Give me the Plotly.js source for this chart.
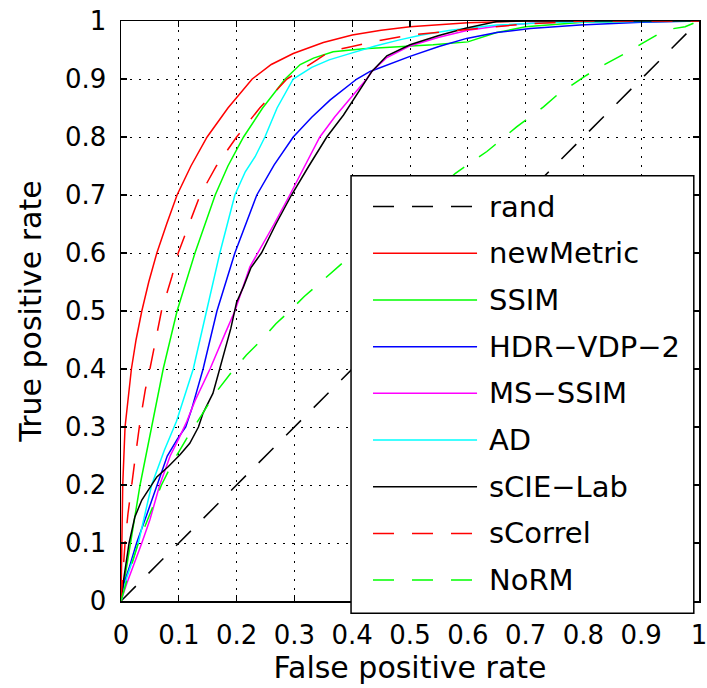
<!DOCTYPE html>
<html>
<head>
<meta charset="utf-8">
<script src="https://cdn.plot.ly/plotly-3.0.1.min.js"></script>
<style>html,body{margin:0;padding:0;background:#fff;}#chart{width:707px;height:688px;}</style>
</head>
<body>
<div id="chart"></div>
<script>
// ---- data ----
const seriesNames = ["rand", "newMetric", "SSIM", "HDR\u2212VDP\u22122", "MS\u2212SSIM", "AD", "sCIE\u2212Lab", "sCorrel", "NoRM"];
const seriesColors = ["#000000", "#ff0000", "#00ff00", "#0000ff", "#ff00ff", "#00ffff", "#000000", "#ff0000", "#00ff00"];
const seriesDash = ["dashed", "solid", "solid", "solid", "solid", "solid", "solid", "dashed", "dashed"];

const fprRand = [0, 1];
const tprRand = [0, 1];

const fprNewMetric = [0, 0.001, 0.003, 0.007, 0.012, 0.018, 0.026, 0.036, 0.048, 0.062, 0.079, 0.097, 0.121, 0.149, 0.185, 0.227, 0.26, 0.298, 0.35, 0.4, 0.45, 0.5, 0.6, 0.7, 1];
const tprNewMetric = [0, 0.1, 0.2, 0.3, 0.35, 0.4, 0.45, 0.5, 0.55, 0.6, 0.65, 0.7, 0.75, 0.8, 0.85, 0.9, 0.925, 0.944, 0.963, 0.976, 0.984, 0.99, 0.997, 1, 1];

const fprSSIM = [0, 0.005, 0.016, 0.033, 0.053, 0.073, 0.097, 0.128, 0.163, 0.185, 0.212, 0.245, 0.284, 0.31, 0.333, 0.367, 0.42, 0.48, 0.54, 0.6, 0.65, 0.7, 0.8, 1];
const tprSSIM = [0, 0.03, 0.1, 0.2, 0.3, 0.4, 0.5, 0.6, 0.7, 0.75, 0.8, 0.85, 0.9, 0.925, 0.936, 0.947, 0.952, 0.955, 0.959, 0.964, 0.98, 0.99, 0.998, 1];

const fprHDR = [0, 0.005, 0.015, 0.027, 0.045, 0.062, 0.08, 0.098, 0.112, 0.122, 0.142, 0.166, 0.197, 0.235, 0.265, 0.298, 0.33, 0.362, 0.408, 0.431, 0.5, 0.55, 0.598, 0.65, 0.708, 0.794, 0.9, 1];
const tprHDR = [0, 0.03, 0.06, 0.1, 0.15, 0.2, 0.25, 0.28, 0.3, 0.33, 0.4, 0.5, 0.6, 0.7, 0.752, 0.8, 0.834, 0.864, 0.9, 0.913, 0.939, 0.956, 0.97, 0.98, 0.987, 0.993, 0.998, 1];

const fprMSSSIM = [0, 0.01, 0.036, 0.05, 0.067, 0.085, 0.1, 0.114, 0.128, 0.154, 0.18, 0.197, 0.223, 0.237, 0.265, 0.292, 0.318, 0.344, 0.37, 0.4, 0.425, 0.434, 0.46, 0.5, 0.55, 0.6, 0.65, 0.708, 0.8, 1];
const tprMSSSIM = [0, 0.03, 0.1, 0.14, 0.2, 0.25, 0.28, 0.31, 0.345, 0.4, 0.461, 0.5, 0.576, 0.6, 0.65, 0.7, 0.75, 0.8, 0.835, 0.87, 0.9, 0.913, 0.937, 0.957, 0.972, 0.984, 0.991, 0.996, 0.999, 1];

const fprAD = [0, 0.01, 0.03, 0.053, 0.075, 0.096, 0.125, 0.148, 0.171, 0.197, 0.215, 0.232, 0.249, 0.27, 0.298, 0.33, 0.36, 0.4, 0.44, 0.48, 0.52, 0.57, 0.65, 0.75, 1];
const tprAD = [0, 0.04, 0.1, 0.2, 0.26, 0.31, 0.4, 0.5, 0.6, 0.7, 0.74, 0.766, 0.8, 0.85, 0.9, 0.92, 0.933, 0.945, 0.957, 0.967, 0.976, 0.984, 0.993, 0.998, 1];

const fprSCIELab = [0, 0.005, 0.014, 0.024, 0.036, 0.05, 0.062, 0.082, 0.102, 0.119, 0.134, 0.142, 0.159, 0.168, 0.177, 0.19, 0.2, 0.212, 0.225, 0.243, 0.268, 0.295, 0.325, 0.356, 0.385, 0.402, 0.425, 0.434, 0.46, 0.5, 0.55, 0.598, 0.65, 0.7, 1];
const tprSCIELab = [0, 0.04, 0.1, 0.145, 0.174, 0.196, 0.214, 0.232, 0.252, 0.272, 0.3, 0.324, 0.358, 0.39, 0.421, 0.47, 0.515, 0.542, 0.575, 0.6, 0.65, 0.7, 0.75, 0.8, 0.838, 0.864, 0.9, 0.913, 0.94, 0.959, 0.975, 0.988, 0.999, 1, 1];

const fprSCorrel = [0, 0.003, 0.007, 0.012, 0.018, 0.025, 0.033, 0.042, 0.05, 0.06, 0.07, 0.088, 0.099, 0.116, 0.137, 0.165, 0.2, 0.24, 0.287, 0.339, 0.362, 0.4, 0.45, 0.5, 0.6, 0.7, 0.8, 1];
const tprSCorrel = [0, 0.05, 0.1, 0.15, 0.2, 0.25, 0.31, 0.364, 0.4, 0.45, 0.5, 0.559, 0.6, 0.645, 0.7, 0.75, 0.8, 0.85, 0.9, 0.933, 0.948, 0.956, 0.967, 0.976, 0.986, 0.995, 1, 1];

const fprNoRM = [0, 0.01, 0.03, 0.05, 0.07, 0.09, 0.114, 0.134, 0.163, 0.194, 0.217, 0.246, 0.268, 0.292, 0.317, 0.34, 0.365, 0.388, 0.45, 0.5, 0.55, 0.578, 0.61, 0.633, 0.661, 0.685, 0.708, 0.731, 0.754, 0.78, 0.803, 0.829, 0.852, 0.878, 0.901, 0.927, 0.95, 0.976, 1];
const tprNoRM = [0, 0.035, 0.1, 0.15, 0.2, 0.24, 0.281, 0.312, 0.358, 0.398, 0.424, 0.453, 0.478, 0.5, 0.525, 0.545, 0.567, 0.587, 0.635, 0.672, 0.71, 0.737, 0.76, 0.775, 0.798, 0.818, 0.835, 0.852, 0.872, 0.89, 0.905, 0.921, 0.933, 0.947, 0.961, 0.976, 0.986, 0.99, 1];

const tickVals = [0, 0.1, 0.2, 0.3, 0.4, 0.5, 0.6, 0.7, 0.8, 0.9, 1];
const tickText = ["0", "0.1", "0.2", "0.3", "0.4", "0.5", "0.6", "0.7", "0.8", "0.9", "1"];

const xTitle = "False positive rate";
const yTitle = "True positive rate";

// ---- build ----
const seriesX = [fprRand, fprNewMetric, fprSSIM, fprHDR, fprMSSSIM, fprAD, fprSCIELab, fprSCorrel, fprNoRM];
const seriesY = [tprRand, tprNewMetric, tprSSIM, tprHDR, tprMSSSIM, tprAD, tprSCIELab, tprSCorrel, tprNoRM];
const DASH = "21px,18px";
const FONT = "DejaVu Sans, Liberation Sans, Arial, sans-serif";

const traces = seriesNames.map((n, i) => ({
  x: seriesX[i], y: seriesY[i], name: n, type: "scatter", mode: "lines",
  line: {color: seriesColors[i], width: 1.5, dash: seriesDash[i] === "dashed" ? DASH : "solid"},
  hoverinfo: "skip", showlegend: false
}));

// custom legend box (paper coordinates of the plot area)
const legL = 0.398, legR = 0.991, legT = 0.733, legB = -0.021;
const rowTop = 0.680, rowStep = 0.0805;
const sampleX0 = 0.436, sampleX1 = 0.616, textX = 0.634;

const shapes = [{
  type: "rect", xref: "paper", yref: "paper", x0: legL, x1: legR, y0: legB, y1: legT,
  fillcolor: "#ffffff", line: {color: "#000000", width: 1.5}, layer: "above"
}];
const annotations = [];
seriesNames.forEach((n, i) => {
  const yy = rowTop - i * rowStep;
  shapes.push({
    type: "line", xref: "paper", yref: "paper", x0: sampleX0, x1: sampleX1, y0: yy, y1: yy,
    line: {color: seriesColors[i], width: 1.5, dash: seriesDash[i] === "dashed" ? DASH : "solid"}, layer: "above"
  });
  annotations.push({
    xref: "paper", yref: "paper", x: textX, y: yy, xanchor: "left", yanchor: "middle",
    text: n, showarrow: false, font: {family: FONT, size: 29, color: "#000"}
  });
});

const axisCommon = {
  range: [0, 1], autorange: false, tickmode: "array", tickvals: tickVals, ticktext: tickText,
  showline: true, linecolor: "#000", linewidth: 1.5, mirror: "ticks",
  ticks: "inside", ticklen: 6, tickwidth: 1.2, tickcolor: "#000",
  showgrid: true, gridcolor: "#000", gridwidth: 1, griddash: "2px,7px",
  zeroline: false, tickfont: {family: FONT, size: 26, color: "#000"}, fixedrange: true,
  ticklabeloverflow: "allow"
};

const layout = {
  width: 707, height: 688,
  margin: {l: 121, r: 8, t: 21, b: 87, pad: 0},
  paper_bgcolor: "#fff", plot_bgcolor: "#fff",
  showlegend: false,
  xaxis: Object.assign({}, axisCommon, {
    title: {text: xTitle, font: {family: FONT, size: 30, color: "#000"}, standoff: 4},
    ticklabelstandoff: 10
  }),
  yaxis: Object.assign({}, axisCommon, {
    title: {text: yTitle, font: {family: FONT, size: 30, color: "#000"}, standoff: 14},
    ticklabelstandoff: 8
  }),
  shapes: shapes,
  annotations: annotations
};

Plotly.newPlot("chart", traces, layout, {displayModeBar: false, staticPlot: true});
</script>
</body>
</html>
